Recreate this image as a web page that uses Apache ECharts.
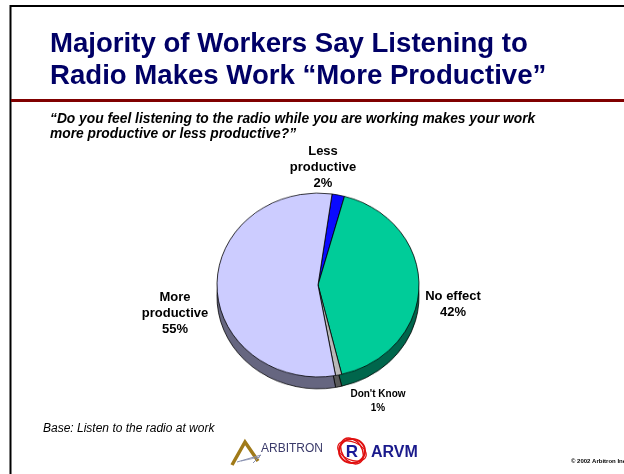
<!DOCTYPE html>
<html>
<head>
<meta charset="utf-8">
<script src="https://cdn.jsdelivr.net/npm/echarts@6/dist/echarts.min.js"></script>
<style>
  html, body { margin: 0; padding: 0; background: #fff; }
  #wrap { position: relative; width: 624px; height: 474px; }
  #chart, #pie { position: absolute; left: 0; top: 0; width: 624px; height: 474px; }
  /* the pie layer is squashed vertically to give the tilted, elliptical look */
  #pie { transform: scaleY(0.91); transform-origin: 318px 285px; pointer-events: none; }
</style>
</head>
<body>
<div id="wrap">
  <div id="chart"></div>
  <div id="pie"></div>
</div>
<script>
// Survey answers, in clockwise order starting near 12 o'clock
const categories = ['Less productive', 'No effect', "Don't Know", 'More productive'];
const shares = [2, 42, 1, 55];

// Slide texts
const titleLines = ['Majority of Workers Say Listening to', 'Radio Makes Work \u201cMore Productive\u201d'];
const questionLines = ['\u201cDo you feel listening to the radio while you are working makes your work',
                       'more productive or less productive?\u201d'];
const baseNote = 'Base: Listen to the radio at work';
const copyright = '\u00a9 2002 Arbitron Inc.';

// Styling
const faceColors = ['#0A0AFF', '#00CC99', '#B8B8B8', '#CCCCFF'];
const sideColors = ['#000080', '#00664C', '#5A5A5A', '#666680'];
const labelCenters = [[323, 167], [453, 304], [378, 401], [175, 313]];
const FONT = '"Liberation Sans", Arial, sans-serif';

const pieCenter = [318, 285];
const pieRadius = 101;
const pieDepth = 13;
const startAngle = 82;

function labelText(p) {
  return p.name.replace(' productive', '\nproductive') + '\n' + p.value + '%';
}

function pieData(colors, extra) {
  return categories.map((name, i) => Object.assign({
    name,
    value: shares[i],
    itemStyle: { color: colors[i] }
  }, extra ? extra(name, i) : {}));
}

// Slide: frame, title, question, notes, logos and the slice labels
const chart = echarts.init(document.getElementById('chart'), null, { renderer: 'canvas' });
chart.setOption({
  animation: false,
  backgroundColor: '#ffffff',
  graphic: [
    { type: 'line', shape: { x1: 10, y1: 6, x2: 624, y2: 6 }, style: { stroke: '#000', lineWidth: 2 }, z: 10 },
    { type: 'line', shape: { x1: 10.5, y1: 5, x2: 10.5, y2: 474 }, style: { stroke: '#000', lineWidth: 2 }, z: 10 },
    { type: 'line', shape: { x1: 11, y1: 100.5, x2: 624, y2: 100.5 }, style: { stroke: '#800000', lineWidth: 3 }, z: 10 },
    { type: 'text', x: 50, y: 44.5, style: { text: titleLines[0], font: 'bold 27.6px ' + FONT, fill: '#000066', verticalAlign: 'middle' }, z: 10 },
    { type: 'text', x: 50, y: 76.5, style: { text: titleLines[1], font: 'bold 27.6px ' + FONT, fill: '#000066', verticalAlign: 'middle' }, z: 10 },
    { type: 'text', x: 50, y: 119.5, style: { text: questionLines[0], font: 'italic bold 13.8px ' + FONT, fill: '#000', verticalAlign: 'middle' }, z: 10 },
    { type: 'text', x: 50, y: 134.5, style: { text: questionLines[1], font: 'italic bold 13.8px ' + FONT, fill: '#000', verticalAlign: 'middle' }, z: 10 },
    { type: 'text', x: 43, y: 429, style: { text: baseNote, font: 'italic 12px ' + FONT, fill: '#000', verticalAlign: 'middle' }, z: 10 },
    // ARBITRON mark
    { type: 'polyline', shape: { points: [[232, 465], [245, 442], [258, 461]] }, style: { stroke: '#A07A18', lineWidth: 3.5, fill: null, lineJoin: 'miter' }, z: 10 },
    { type: 'polyline', shape: { points: [[237, 462], [261, 455], [253, 463]] }, style: { stroke: '#8890B0', lineWidth: 1, fill: null }, z: 10 },
    { type: 'line', shape: { x1: 241, y1: 461, x2: 260, y2: 457 }, style: { stroke: '#8890B0', lineWidth: 0.8 }, z: 10 },
    { type: 'text', x: 261, y: 449, style: { text: 'ARBITRON', font: '12px ' + FONT, fill: '#3A3A6A', verticalAlign: 'middle' }, z: 10 },
    // ARVM mark
    { type: 'ellipse', shape: { cx: 352, cy: 451, rx: 13, ry: 12 }, style: { stroke: '#E01010', lineWidth: 2, fill: null }, z: 10 },
    { type: 'ellipse', shape: { cx: 352, cy: 451, rx: 10, ry: 14 }, rotation: 0.6, originX: 352, originY: 451, style: { stroke: '#E01010', lineWidth: 1.5, fill: null }, z: 10 },
    { type: 'ellipse', shape: { cx: 352, cy: 451, rx: 15, ry: 9 }, rotation: -0.4, originX: 352, originY: 451, style: { stroke: '#E01010', lineWidth: 1.2, fill: null }, z: 10 },
    { type: 'text', x: 352, y: 452, style: { text: 'R', font: 'bold 17px ' + FONT, fill: '#1A1A99', align: 'center', verticalAlign: 'middle' }, z: 11 },
    { type: 'text', x: 371, y: 453, style: { text: 'ARVM', font: 'bold 16px ' + FONT, fill: '#1A1A8C', verticalAlign: 'middle' }, z: 10 },
    { type: 'text', x: 571, y: 461, style: { text: copyright, font: 'bold 6px ' + FONT, fill: '#000', verticalAlign: 'middle' }, z: 10 }
  ],
  series: [
    {
      // label-only pie: carries the slice labels at their unsquashed positions
      type: 'pie',
      silent: true,
      center: pieCenter,
      radius: pieRadius * 0.9,
      startAngle: startAngle,
      clockwise: true,
      avoidLabelOverlap: false,
      itemStyle: { color: 'rgba(0,0,0,0)', borderWidth: 0 },
      label: {
        show: true,
        position: 'outside',
        formatter: labelText,
        fontFamily: FONT,
        fontWeight: 'bold',
        fontSize: 13,
        lineHeight: 16,
        color: '#000',
        align: 'center'
      },
      labelLine: { show: false },
      labelLayout: function (p) {
        const c = labelCenters[p.dataIndex];
        return { x: c[0], y: c[1], align: 'center', verticalAlign: 'middle' };
      },
      emphasis: { disabled: true },
      data: categories.map((name, i) => ({
        name,
        value: shares[i],
        label: name === "Don't Know" ? { fontSize: 10, lineHeight: 14 } : undefined
      }))
    }
  ]
});

// Tilted pie: a darker copy shifted down forms the side wall, the face sits on top
const pie = echarts.init(document.getElementById('pie'), null, { renderer: 'canvas' });
pie.setOption({
  animation: false,
  series: [
    {
      type: 'pie',
      silent: true,
      z: 1,
      center: [pieCenter[0], pieCenter[1] + pieDepth],
      radius: pieRadius,
      startAngle: startAngle,
      clockwise: true,
      label: { show: false },
      labelLine: { show: false },
      itemStyle: { borderColor: '#000', borderWidth: 0.8 },
      data: pieData(sideColors)
    },
    {
      type: 'pie',
      silent: true,
      z: 2,
      center: pieCenter,
      radius: pieRadius,
      startAngle: startAngle,
      clockwise: true,
      label: { show: false },
      labelLine: { show: false },
      itemStyle: { borderColor: '#000', borderWidth: 0.8 },
      data: pieData(faceColors)
    }
  ]
});
</script>
</body>
</html>
